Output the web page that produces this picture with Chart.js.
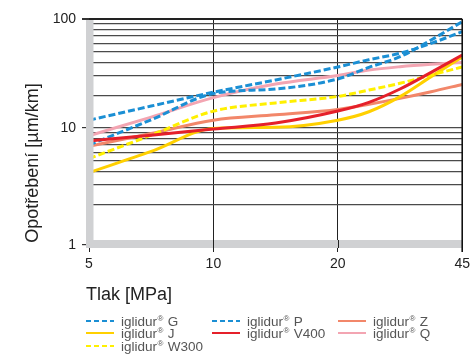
<!DOCTYPE html>
<html>
<head>
<meta charset="utf-8">
<script src="https://cdn.jsdelivr.net/npm/chart.js@4/dist/chart.umd.min.js"></script>
<style>
  html, body { margin: 0; padding: 0; background: #ffffff; }
  #wrap { position: relative; width: 474px; height: 355px; }
</style>
</head>
<body>
<div id="wrap"><canvas id="c" width="474" height="355"></canvas></div>
<script>
// ---- data ----
const PRESSURE_TICKS = [5, 10, 20, 45];                 // x tick labels [MPa]
const PRESSURES = [5, 7.5, 10, 15, 20, 26.25, 32.5, 38.75, 45];
const Y_TICK_LABELS = [1, 10, 100];                      // labelled y ticks [µm/km]
const G    = [11.8, 15.9, 21.3, 27.6, 36.3, 42.3, 48.5, 59.8, 76.5];
const P    = [7.0, 11.9, 20.7, 22.8, 28.2, 36.0, 45.1, 64.2, 94.5];
const Z    = [6.8, 8.9, 11.8, 13.2, 14.8, 16.5, 18.7, 21.5, 25.1];
const J    = [3.9, 6.1, 9.9, 10.15, 11.8, 14.1, 19.4, 29.6, 44.8];
const V400 = [7.6, 8.6, 9.8, 11.1, 14.3, 17.2, 22.8, 32.4, 46.7];
const Q    = [8.5, 12.6, 19.0, 25.3, 30.3, 34.0, 36.5, 38.4, 39.9];
const W300 = [5.25, 8.6, 14.3, 17.0, 19.5, 22.3, 25.7, 30.6, 36.3];

// x axis: the pressure ticks are equally spaced; map pressure to tick index position
function pos(p) {
  for (let i = 0; i < PRESSURE_TICKS.length - 1; i++) {
    const a = PRESSURE_TICKS[i], b = PRESSURE_TICKS[i + 1];
    if (p <= b) return i + (p - a) / (b - a);
  }
  return PRESSURE_TICKS.length - 1;
}
function pts(arr) { return arr.map((v, i) => ({ x: pos(PRESSURES[i]), y: v })); }

const BLUE = '#1b8fd4', GOLD = '#ffd000', YEL = '#fff000', RED = '#e5202a', SALMON = '#f2876a', PINK = '#f3a5b2';
const YMIN = 0.845;

const series = [
  { label: 'G',    data: G,    color: BLUE,   dash: [7, 3], order: 1 },
  { label: 'P',    data: P,    color: BLUE,   dash: [7, 3], order: 2 },
  { label: 'Z',    data: Z,    color: SALMON, dash: [],     order: 7 },
  { label: 'J',    data: J,    color: GOLD,   dash: [],     order: 4 },
  { label: 'V400', data: V400, color: RED,    dash: [],     order: 0 },
  { label: 'Q',    data: Q,    color: PINK,   dash: [],     order: 6 },
  { label: 'W300', data: W300, color: YEL,    dash: [7, 3], order: 3 }
];

const datasets = series.map(s => ({
  label: 'iglidur® ' + s.label,
  data: pts(s.data),
  borderColor: s.color,
  borderWidth: 3,
  borderDash: s.dash,
  pointRadius: 0,
  fill: false,
  cubicInterpolationMode: 'monotone',
  order: s.order
}));

const FONT = '"Liberation Sans", Arial, Helvetica, sans-serif';

const decor = {
  id: 'decor',
  afterDatasetsDraw(chart) {
    const ctx = chart.ctx, a = chart.chartArea;
    const xs = chart.scales.x;
    ctx.save();
    ctx.fillStyle = '#d0d1d3';
    ctx.fillRect(a.left - 3, a.top + 1, 7.5, a.bottom - a.top + 2);
    ctx.fillRect(a.left - 3, a.bottom - 5, a.right - a.left + 3, 8);
    ctx.strokeStyle = '#222';
    ctx.lineWidth = 1;
    [1, 2].forEach(i => {
      const x = Math.round(xs.getPixelForValue(i)) + 0.5;
      ctx.beginPath(); ctx.moveTo(x, a.bottom - 5); ctx.lineTo(x, a.bottom + 3); ctx.stroke();
    });
    const xr = xs.getPixelForValue(3);
    ctx.lineWidth = 1.6;
    ctx.strokeStyle = '#111';
    ctx.beginPath(); ctx.moveTo(xr, a.top); ctx.lineTo(xr, a.bottom + 7); ctx.stroke();
    ctx.restore();
  },
  afterDraw(chart) {
    const ctx = chart.ctx;
    ctx.save();
    ctx.fillStyle = '#222';
    ctx.font = '18px ' + FONT;
    ctx.textBaseline = 'middle';
    ctx.textAlign = 'center';
    ctx.save();
    ctx.translate(33, 163);
    ctx.rotate(-Math.PI / 2);
    ctx.fillText('Opotřebení [µm/km]', 0, 0);
    ctx.restore();
    ctx.textAlign = 'left';
    ctx.textBaseline = 'alphabetic';
    ctx.fillText('Tlak [MPa]', 86, 300);

    // legend, 3 columns
    const cols = [[0, 3, 6], [1, 4], [2, 5]];
    const colX = [86, 212, 338];
    const rowBase = [326, 338, 351];
    cols.forEach((col, ci) => {
      col.forEach((si, ri) => {
        const s = series[si];
        const yb = rowBase[ri];
        const x0 = colX[ci];
        ctx.strokeStyle = s.color;
        ctx.lineWidth = 2;
        ctx.setLineDash(s.dash.length ? [5, 3] : []);
        ctx.beginPath(); ctx.moveTo(x0, yb - 5); ctx.lineTo(x0 + 28, yb - 5); ctx.stroke();
        ctx.setLineDash([]);
        ctx.fillStyle = '#555';
        ctx.font = '13.5px ' + FONT;
        let tx = x0 + 35;
        ctx.fillText('iglidur', tx, yb);
        tx += ctx.measureText('iglidur').width + 0.5;
        ctx.font = '8px ' + FONT;
        ctx.fillText('®', tx, yb - 5);
        tx += ctx.measureText('®').width + 0.5;
        ctx.font = '13.5px ' + FONT;
        ctx.fillText(' ' + s.label, tx, yb);
      });
    });
    ctx.restore();
  }
};

new Chart(document.getElementById('c'), {
  type: 'line',
  data: { datasets },
  plugins: [decor],
  options: {
    responsive: false,
    animation: false,
    layout: { padding: { top: 19, right: 11, left: 0, bottom: 0 } },
    plugins: { legend: { display: false }, tooltip: { enabled: false } },
    scales: {
      x: {
        type: 'linear', min: 0, max: PRESSURE_TICKS.length - 1,
        afterBuildTicks: s => { s.ticks = PRESSURE_TICKS.map((t, i) => ({ value: i })); },
        afterFit: s => { s.height = 110; },
        border: { display: false },
        grid: {
          color: c => c.tick.value === 0 ? 'rgba(0,0,0,0)' : (c.tick.value === 3 ? 'rgba(0,0,0,0)' : '#222'),
          lineWidth: 1,
          tickLength: 7,
          tickColor: '#222'
        },
        ticks: {
          padding: 4, color: '#222', font: { family: FONT, size: 14 },
          maxRotation: 0, autoSkip: false,
          callback: v => PRESSURE_TICKS[v]
        }
      },
      y: {
        type: 'logarithmic', min: YMIN, max: 100,
        afterBuildTicks: s => {
          const v = [YMIN];
          for (let d = 1; d <= 10; d *= 10) for (let k = (d === 1 ? 2 : 1); k <= 9; k++) v.push(k * d);
          v.push(100);
          s.ticks = v.map(x => ({ value: x }));
        },
        afterFit: s => { s.width = 89; },
        border: { display: false },
        grid: {
          color: c => c.tick.value === YMIN ? 'rgba(0,0,0,0)' : (c.tick.value === 100 ? '#222' : '#4a4a4a'),
          lineWidth: c => c.tick.value === 100 ? 2 : 1.2,
          tickLength: 7,
          tickColor: c => (c.tick.value === YMIN || c.tick.value === 10 || c.tick.value === 100) ? '#333' : 'rgba(0,0,0,0)'
        },
        ticks: {
          padding: 6, color: '#222', font: { family: FONT, size: 14 },
          autoSkip: false,
          callback: v => v === YMIN ? String(Y_TICK_LABELS[0]) : (Y_TICK_LABELS.includes(v) ? String(v) : '')
        }
      }
    }
  }
});
</script>
</body>
</html>
